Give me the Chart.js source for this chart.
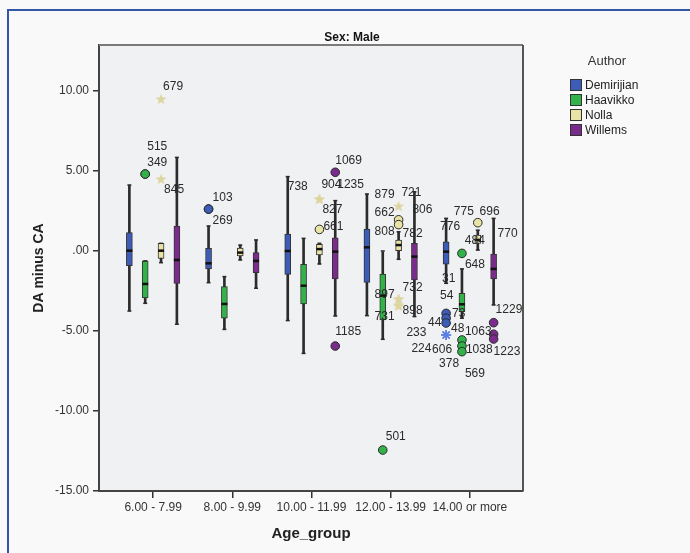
<!DOCTYPE html>
<html>
<head>
<meta charset="utf-8">
<script src="https://cdn.jsdelivr.net/npm/chart.js@4.4.0/dist/chart.umd.min.js"></script>
<style>
  body { margin: 0; background: #f9f9f9; }
  #wrap { position: relative; width: 690px; height: 553px; overflow: hidden; }
  #frame { position: absolute; left: 7px; top: 9px; width: 720px; height: 600px;
           border-left: 2px solid #3456a6; border-top: 2px solid #3456a6; }
  canvas { position: absolute; left: 0; top: 0; }
  #legend { position: absolute; left: 570px; top: 53px; width: 70px;
            font-family: "Liberation Sans", Arial, sans-serif; color: #222; }
  #legend .ttl { font-size: 13px; color: #333; text-align: center; margin-left: 4px; margin-bottom: 9px; }
  #legend .row { display: flex; align-items: center; height: 15px; font-size: 12px; }
  #legend .sw { width: 10px; height: 10px; border: 1px solid #333; margin-right: 3px; }
</style>
</head>
<body>
<div id="wrap">
  <div id="frame"></div>
  <canvas id="chart" width="690" height="553"></canvas>
  <div id="legend"></div>
</div>
<script>
const categories = ["6.00 - 7.99", "8.00 - 9.99", "10.00 - 11.99", "12.00 - 13.99", "14.00 or more"];
const authors = ["Demirijian", "Haavikko", "Nolla", "Willems"];
const authorColors = ["#3c5cb8", "#33b249", "#e9e3a6", "#7a2b8c"];
const yTicks = [-15, -10, -5, 0, 5, 10];

// per age group: [lower whisker, Q1, median, Q3, upper whisker]
const demirijian = [
  [-3.75, -0.92, 0.02, 1.15, 4.12],
  [-1.98, -1.12, -0.77, 0.17, 1.56],
  [-4.35, -1.46, 0.0, 1.06, 4.65],
  [-4.04, -1.96, 0.23, 1.37, 3.56],
  [-2.02, -0.83, -0.04, 0.58, 2.04]
];
const haavikko = [
  [-3.27, -2.94, -2.06, -0.62, -0.62],
  [-4.9, -4.2, -3.31, -2.23, -1.6],
  [-6.4, -3.31, -2.17, -0.83, 0.79],
  [-5.52, -4.31, -2.79, -1.44, 0.0],
  [-4.2, -3.79, -3.33, -2.65, -1.12]
];
const nolla = [
  [-0.73, -0.46, 0.02, 0.48, 0.48],
  [-0.56, -0.31, -0.1, 0.19, 0.37],
  [-0.81, -0.25, 0.12, 0.42, 0.48],
  [-0.52, 0.02, 0.37, 0.69, 1.2],
  [0.06, 0.48, 0.69, 1.0, 1.3]
];
const willems = [
  [-4.58, -2.02, -0.56, 1.56, 5.85],
  [-2.33, -1.35, -0.62, -0.1, 0.69],
  [-4.06, -1.75, -0.04, 0.83, 3.15],
  [-4.1, -1.81, -0.35, 0.48, 3.7],
  [-3.37, -1.75, -1.12, -0.19, 2.04]
];

// outliers: [age group index, value, case id, mark] ("o" outlier, "*" extreme, "" label only)
const demirijianOut = [
  [1, 2.62, "103", "o"], [1, 2.62, "269", "o"],
  [2, 4.65, "738", ""],
  [4, 2.04, "776", ""], [4, -2.2, "31", ""], [4, -3.3, "54", ""],
  [4, -3.9, "73", "o"], [4, -4.2, "44", "o"], [4, -4.5, "48", "o"],
  [4, -5.25, "606", "*"], [4, -5.25, "378", "*"]
];
const haavikkoOut = [
  [0, 4.81, "515", "o"], [0, 4.81, "349", "o"],
  [3, -12.44, "501", "o"],
  [4, -0.15, "648", "o"],
  [4, -5.56, "1063", "o"], [4, -5.94, "1038", "o"], [4, -6.29, "569", "o"]
];
const nollaOut = [
  [0, 9.5, "679", "*"], [0, 4.5, "845", "*"],
  [2, 3.25, "904", "*"], [2, 3.25, "827", "*"], [2, 1.35, "661", "o"],
  [3, 2.81, "879", "*"], [3, 1.95, "662", "o"], [3, 1.65, "808", "o"], [3, 1.2, "782", ""],
  [3, -3.0, "897", "*"], [3, -3.0, "732", "*"], [3, -3.4, "898", "*"], [3, -3.4, "731", "*"],
  [4, 1.77, "775", "o"], [4, 1.3, "484", ""]
];
const willemsOut = [
  [2, 4.92, "1069", "o"], [2, 3.15, "1235", ""], [2, -5.94, "1185", "o"],
  [3, 3.7, "721", ""], [3, 3.3, "806", ""], [3, -5.0, "233", ""], [3, -6.0, "224", ""],
  [4, 2.04, "696", ""], [4, 1.4, "770", ""],
  [4, -4.48, "1229", "o"], [4, -5.2, "1223", "o"], [4, -5.5, "", "o"]
];

// where each case label sits relative to its point (px)
const labelOffsets = {
  "103": [4, -11], "269": [4, 12], "738": [0, 10], "776": [-6, 8], "31": [-4, -8], "54": [-6, -8],
  "73": [6, 0], "44": [-18, 4], "48": [5, 6], "606": [-14, 15], "378": [-7, 29],
  "515": [2, -27], "349": [2, -11], "501": [3, -13], "648": [3, 11],
  "1063": [3, -8], "1038": [4, 4], "569": [3, 22],
  "679": [2, -12], "845": [3, 11], "904": [2, -14], "827": [3, 11], "661": [4, -3],
  "879": [-24, -11], "662": [-24, -7], "808": [-24, 7], "782": [4, 2],
  "897": [-24, -4], "732": [4, -11], "898": [4, 5], "731": [-24, 11],
  "775": [-24, -11], "484": [-13, 10],
  "1069": [0, -12], "1235": [2, -16], "1185": [0, -14], "721": [-13, 1], "806": [-2, 11],
  "233": [-8, 2], "224": [-3, 2], "696": [-14, -7], "770": [4, 5], "1229": [2, -13], "1223": [0, 17]
};

const boxStats = [demirijian, haavikko, nolla, willems];
const outlierSets = [demirijianOut, haavikkoOut, nollaOut, willemsOut];
const shift = [-0.3, -0.1, 0.1, 0.3];
const font = '"Liberation Sans", Arial, sans-serif';

// five point star for Nolla extremes
const starImg = document.createElement("canvas");
starImg.width = 12; starImg.height = 12;
(function () {
  const c = starImg.getContext("2d");
  c.beginPath();
  for (let i = 0; i < 10; i++) {
    const r = i % 2 === 0 ? 5.8 : 2.4;
    const a = -Math.PI / 2 + i * Math.PI / 5;
    c.lineTo(6 + r * Math.cos(a), 6.5 + r * Math.sin(a));
  }
  c.closePath();
  c.fillStyle = "#ddd5a0";
  c.fill();
})();

const datasets = [];
boxStats.forEach((stats, a) => {
  const xs = stats.map((s, g) => g + 1 + shift[a]);
  datasets.push({
    type: "bar", grouped: false, order: 5, barThickness: 2,
    backgroundColor: "#2b2b2b",
    data: stats.map((s, g) => ({ x: xs[g], y: [s[0], s[4]] }))
  });
  datasets.push({
    type: "bar", grouped: false, order: 4, barThickness: 6,
    backgroundColor: authorColors[a], borderColor: "#333", borderWidth: 1, borderSkipped: false,
    data: stats.map((s, g) => ({ x: xs[g], y: [s[1], s[3]] }))
  });
  datasets.push({
    type: "scatter", order: 3, pointStyle: "line", pointRadius: 2, borderWidth: 1.5, borderColor: "#2b2b2b",
    data: stats.flatMap((s, g) => [{ x: xs[g], y: s[0] }, { x: xs[g], y: s[4] }])
  });
  datasets.push({
    type: "scatter", order: 2, pointStyle: "line", pointRadius: 3, borderWidth: 2.5, borderColor: "#111",
    data: stats.map((s, g) => ({ x: xs[g], y: s[2] }))
  });
  datasets.push({
    type: "scatter", order: 1, isOutlier: true,
    data: outlierSets[a].map(o => ({ x: o[0] + 1 + shift[a], y: o[1], id: o[2], mark: o[3] })),
    pointStyle: ctx => ctx.raw.mark === "*" ? (a === 2 ? starImg : "star") : "circle",
    pointRadius: ctx => ctx.raw.mark === "" ? 0 : (ctx.raw.mark === "*" ? 5 : 4.3),
    backgroundColor: authorColors[a],
    borderColor: ctx => ctx.raw.mark === "*" ? "#5b7fe3" : "#2a2a2a",
    borderWidth: ctx => ctx.raw.mark === "*" ? 1.5 : 1
  });
});

const plotFrame = {
  id: "plotFrame",
  beforeDraw(chart) {
    const { ctx, chartArea: ca } = chart;
    ctx.save();
    ctx.fillStyle = "#f0f1f3";
    ctx.fillRect(ca.left, ca.top, ca.right - ca.left, ca.bottom - ca.top);
    ctx.restore();
  },
  beforeDatasetsDraw(chart) {
    const { ctx, chartArea: ca } = chart;
    ctx.save();
    ctx.lineWidth = 2;
    ctx.strokeStyle = "#7a7a7a";
    ctx.beginPath(); ctx.moveTo(ca.left, ca.top); ctx.lineTo(ca.right, ca.top); ctx.stroke();
    ctx.strokeStyle = "#555";
    ctx.beginPath(); ctx.moveTo(ca.right, ca.top); ctx.lineTo(ca.right, ca.bottom); ctx.stroke();
    ctx.restore();
  }
};

const caseLabels = {
  id: "caseLabels",
  afterDatasetsDraw(chart) {
    const ctx = chart.ctx;
    ctx.save();
    ctx.font = "12px " + font;
    ctx.fillStyle = "#2a2a2a";
    ctx.textBaseline = "middle";
    ctx.textAlign = "left";
    chart.data.datasets.forEach((ds, i) => {
      if (!ds.isOutlier) return;
      chart.getDatasetMeta(i).data.forEach((pt, j) => {
        const id = ds.data[j].id;
        if (!id) return;
        const off = labelOffsets[id] || [4, -10];
        ctx.fillText(id, pt.x + off[0], pt.y + off[1]);
      });
    });
    ctx.restore();
  }
};

new Chart(document.getElementById("chart"), {
  type: "bar",
  data: { datasets: datasets },
  options: {
    responsive: false,
    devicePixelRatio: 1,
    animation: false,
    events: [],
    layout: { padding: { left: 14, top: 0, right: 0, bottom: 0 } },
    plugins: {
      legend: { display: false },
      tooltip: { enabled: false },
      title: {
        display: true, text: "Sex: Male", color: "#111",
        font: { family: font, size: 12, weight: "bold" },
        padding: { top: 30, bottom: 0.6 }
      }
    },
    scales: {
      x: {
        type: "linear", min: 0.3165, max: 5.671, offset: false,
        afterBuildTicks: s => { s.ticks = categories.map((c, i) => ({ value: i + 1 })); },
        afterFit: s => { s.height = 62; },
        ticks: {
          callback: v => categories[v - 1] || "", autoSkip: false, maxRotation: 0,
          color: "#333", font: { family: font, size: 12 }, padding: 2
        },
        grid: { offset: false, drawOnChartArea: false, drawTicks: true, tickLength: 7, color: "#333", lineWidth: 1.5 },
        border: { display: true, color: "#444", width: 2 },
        title: {
          display: true, text: "Age_group", color: "#222",
          font: { family: font, size: 15, weight: "bold" }, padding: { top: 0, bottom: 10 }
        }
      },
      y: {
        type: "linear", min: -15, max: 12.875,
        afterBuildTicks: s => { s.ticks = yTicks.map(v => ({ value: v })); },
        afterFit: s => { s.width = 85; },
        ticks: {
          callback: v => v === 0 ? ".00" : v.toFixed(2),
          color: "#333", font: { family: font, size: 12 }, padding: 4
        },
        grid: { drawOnChartArea: false, drawTicks: true, tickLength: 6, color: "#333", lineWidth: 1.5 },
        border: { display: true, color: "#444", width: 2 },
        title: {
          display: true, text: "DA minus CA", color: "#222",
          font: { family: font, size: 14, weight: "bold" }, padding: { top: 17, bottom: 0 }
        }
      },
      yRight: {
        position: "right", display: true,
        afterFit: s => { s.width = 167; },
        grid: { display: false }, ticks: { display: false }, border: { display: false }
      }
    }
  },
  plugins: [plotFrame, caseLabels]
});

// legend
const legend = document.getElementById("legend");
legend.innerHTML = '<div class="ttl">Author</div>' + authors.map((name, i) =>
  '<div class="row"><span class="sw" style="background:' + authorColors[i] + '"></span>' + name + '</div>'
).join("");
</script>
</body>
</html>
